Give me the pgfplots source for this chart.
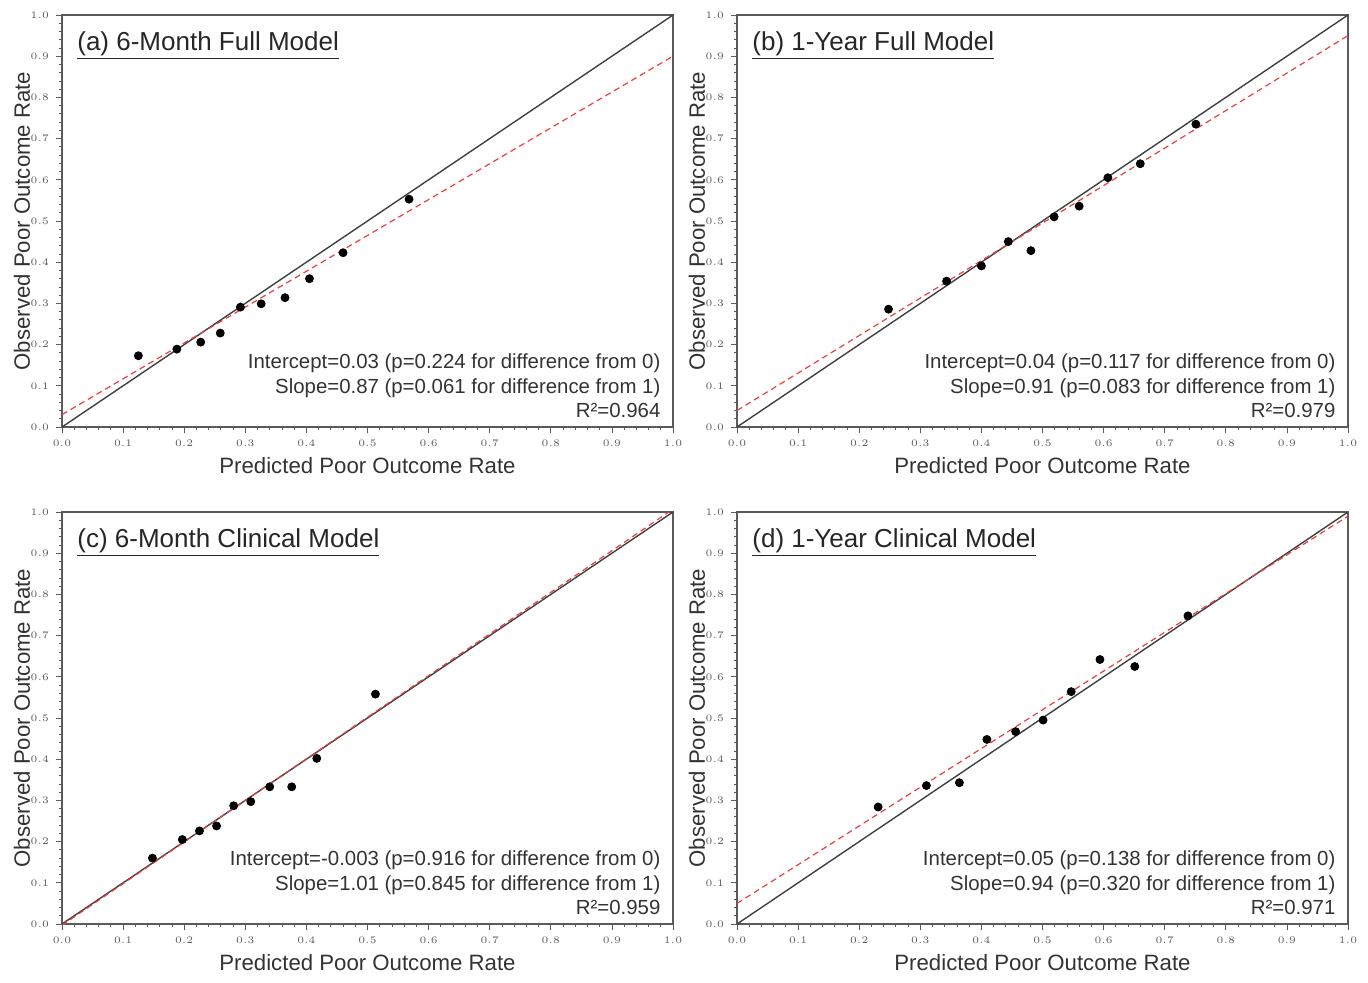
\documentclass[border=0pt]{standalone}
\usepackage{pgfplots}
\pgfplotsset{compat=1.18}
\usepackage{fontspec}
\setmainfont{Liberation Sans}

\definecolor{fitred}{RGB}{232,64,64}
\definecolor{framegray}{RGB}{90,90,90}

\pgfplotsset{
  calib/.style={
    scale only axis, width=305.5pt, height=206pt,
    anchor=south west,
    xmin=0, xmax=1, ymin=0, ymax=1,
    xtick={0,0.1,0.2,0.3,0.4,0.5,0.6,0.7,0.8,0.9,1},
    ytick={0,0.1,0.2,0.3,0.4,0.5,0.6,0.7,0.8,0.9,1},
    minor tick num=4,
    tick align=outside, xtick pos=bottom, ytick pos=left,
    major tick length=3pt, minor tick length=1.5pt,
    tick style={framegray, line width=0.4pt},
    axis line style={framegray, line width=0.8pt},
    ticklabel style={font=\fontsize{4.5}{5}\selectfont, text=framegray},
    xticklabel style={/pgf/number format/.cd, fixed, fixed zerofill, precision=1},
    yticklabel style={/pgf/number format/.cd, fixed, fixed zerofill, precision=1},
    xlabel={Predicted Poor Outcome Rate},
    ylabel={Observed Poor Outcome Rate},
    label style={font=\fontsize{11.1}{13}\selectfont, text=black!80},
    x label style={at={(axis description cs:0.5,-0.0947)}, anchor=center},
    y label style={at={(axis description cs:-0.0655,0.5)}, anchor=center},
  },
  diag/.style={black!75, line width=0.7pt, no marks},
  fit/.style={fitred, densely dashed, line width=0.6pt, no marks},
  pts/.style={only marks, mark=*, mark size=2pt, black},
}

\newcommand{\paneltitle}[1]{\node[anchor=base west, inner sep=0pt, font=\fontsize{13}{15}\selectfont, text=black!85]
  at (rel axis cs:0.0245,0.915) {\underline{#1}};}
\newcommand{\stats}[3]{\node[anchor=base east, align=right, inner sep=0pt, font=\fontsize{10.2}{12.25}\selectfont, text=black!80]
  at (rel axis cs:0.980,0.022) {#1\\#2\\#3};}

\begin{document}
\begin{tikzpicture}
\useasboundingbox (0,0) rectangle (684pt,491pt);

% (a)
\begin{axis}[calib, at={(31pt,277.5pt)}]
  \addplot[diag] coordinates {(0,0) (1,1)};
  \addplot[fit] coordinates {(0,0.03) (1,0.90)};
  \addplot[pts] coordinates {(0.125,0.173) (0.188,0.189) (0.227,0.206) (0.259,0.228) (0.292,0.291) (0.326,0.299) (0.365,0.314) (0.405,0.360) (0.460,0.423) (0.568,0.553)};
  \paneltitle{(a) 6-Month Full Model}
  \stats{Intercept=0.03 (p=0.224 for difference from 0)}{Slope=0.87 (p=0.061 for difference from 1)}{R²=0.964}
\end{axis}

% (b)
\begin{axis}[calib, at={(368.5pt,277.5pt)}]
  \addplot[diag] coordinates {(0,0) (1,1)};
  \addplot[fit] coordinates {(0,0.04) (1,0.95)};
  \addplot[pts] coordinates {(0.248,0.286) (0.343,0.354) (0.400,0.391) (0.444,0.450) (0.481,0.428) (0.519,0.510) (0.560,0.536) (0.607,0.605) (0.660,0.639) (0.751,0.735)};
  \paneltitle{(b) 1-Year Full Model}
  \stats{Intercept=0.04 (p=0.117 for difference from 0)}{Slope=0.91 (p=0.083 for difference from 1)}{R²=0.979}
\end{axis}

% (c)
\begin{axis}[calib, at={(31pt,29pt)}]
  \addplot[diag] coordinates {(0,0) (1,1)};
  \addplot[fit] coordinates {(0,-0.003) (1,1.007)};
  \addplot[pts] coordinates {(0.148,0.160) (0.197,0.205) (0.225,0.226) (0.253,0.238) (0.281,0.287) (0.309,0.297) (0.340,0.333) (0.376,0.333) (0.417,0.402) (0.513,0.558)};
  \paneltitle{(c) 6-Month Clinical Model}
  \stats{Intercept=-0.003 (p=0.916 for difference from 0)}{Slope=1.01 (p=0.845 for difference from 1)}{R²=0.959}
\end{axis}

% (d)
\begin{axis}[calib, at={(368.5pt,29pt)}]
  \addplot[diag] coordinates {(0,0) (1,1)};
  \addplot[fit] coordinates {(0,0.05) (1,0.99)};
  \addplot[pts] coordinates {(0.231,0.284) (0.310,0.336) (0.364,0.343) (0.409,0.448) (0.456,0.467) (0.501,0.495) (0.547,0.564) (0.594,0.642) (0.651,0.625) (0.738,0.748)};
  \paneltitle{(d) 1-Year Clinical Model}
  \stats{Intercept=0.05 (p=0.138 for difference from 0)}{Slope=0.94 (p=0.320 for difference from 1)}{R²=0.971}
\end{axis}
\end{tikzpicture}
\end{document}
